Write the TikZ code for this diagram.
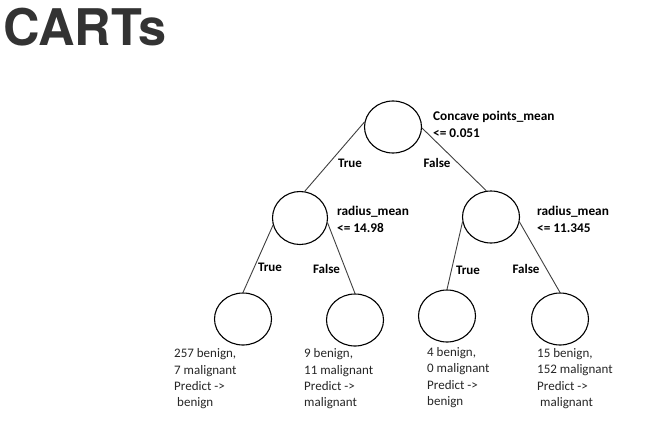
\documentclass[tikz,border=0pt]{standalone}
\usepackage{fontspec}
\setmainfont{Carlito}
\newfontfamily\titlefont{TeX Gyre Heros}
\usetikzlibrary{shapes.geometric}
\definecolor{titlegray}{HTML}{333333}
\definecolor{edgegray}{HTML}{404040}
\tikzset{
  treenode/.style={ellipse,draw=black,line width=1.1pt,minimum width=57pt,minimum height=52pt,inner sep=0pt},
  edge/.style={draw=edgegray,line width=0.9pt},
  splitlabel/.style={anchor=west,inner sep=0pt,align=left,font=\fontsize{13.3}{16.8}\selectfont\bfseries},
  edgelabel/.style={inner sep=0pt,font=\fontsize{13}{16}\selectfont\bfseries},
  leaftext/.style={anchor=west,inner sep=0pt,align=left,font=\fontsize{13}{16.3}\selectfont,text=black!85}
}
\begin{document}
\begin{tikzpicture}[x=1pt,y=-1pt]
\useasboundingbox (0,0) rectangle (658,426);
\fill[white] (0,0) rectangle (658,426);
% title
\node[anchor=base west,inner sep=0pt,font=\fontsize{50.5}{56}\selectfont\titlefont\bfseries,text=titlegray] (title) at (3,45.5) {CARTs};
% tree nodes
\node[treenode] (root) at (393,127) {};
\node[treenode,minimum width=55pt,minimum height=53pt] (lm) at (300,218) {};
\node[treenode] (rm) at (491,217) {};
\node[treenode] (l1) at (243,319) {};
\node[treenode] (l2) at (355,320) {};
\node[treenode] (l3) at (447,316) {};
\node[treenode] (l4) at (560,319) {};
% edges
\draw[edge] (root.170) -- (lm.80);
\draw[edge] (root.358) -- (rm.100);
\draw[edge] (lm.195) -- (l1.north);
\draw[edge] (lm.350) -- (l2.north);
\draw[edge] (rm.190) -- (l3.north);
\draw[edge] (rm.350) -- (l4.north);
% split labels
\node[splitlabel] (s0) at (433,124.5) {Concave points\_mean\\<= 0.051};
\node[splitlabel] (s1) at (337,219) {radius\_mean\\<= 14.98};
\node[splitlabel] (s2) at (537,219) {radius\_mean\\<= 11.345};
% edge labels
\node[edgelabel] (e1) at (350,163) {True};
\node[edgelabel] (e2) at (437,163) {False};
\node[edgelabel] (e3) at (270,267) {True};
\node[edgelabel] (e4) at (326.5,269) {False};
\node[edgelabel] (e5) at (468,270) {True};
\node[edgelabel] (e6) at (526,269) {False};
% leaf texts
\node[leaftext] (t1) at (174,379) {257 benign,\\7 malignant\\Predict ->\\\hspace*{3pt}benign};
\node[leaftext] (t2) at (304,379) {9 benign,\\11 malignant\\Predict ->\\malignant};
\node[leaftext] (t3) at (427,377.5) {4 benign,\\0 malignant\\Predict ->\\benign};
\node[leaftext] (t4) at (537,378.5) {15 benign,\\152 malignant\\Predict ->\\\hspace*{3pt}malignant};
\end{tikzpicture}
\end{document}
